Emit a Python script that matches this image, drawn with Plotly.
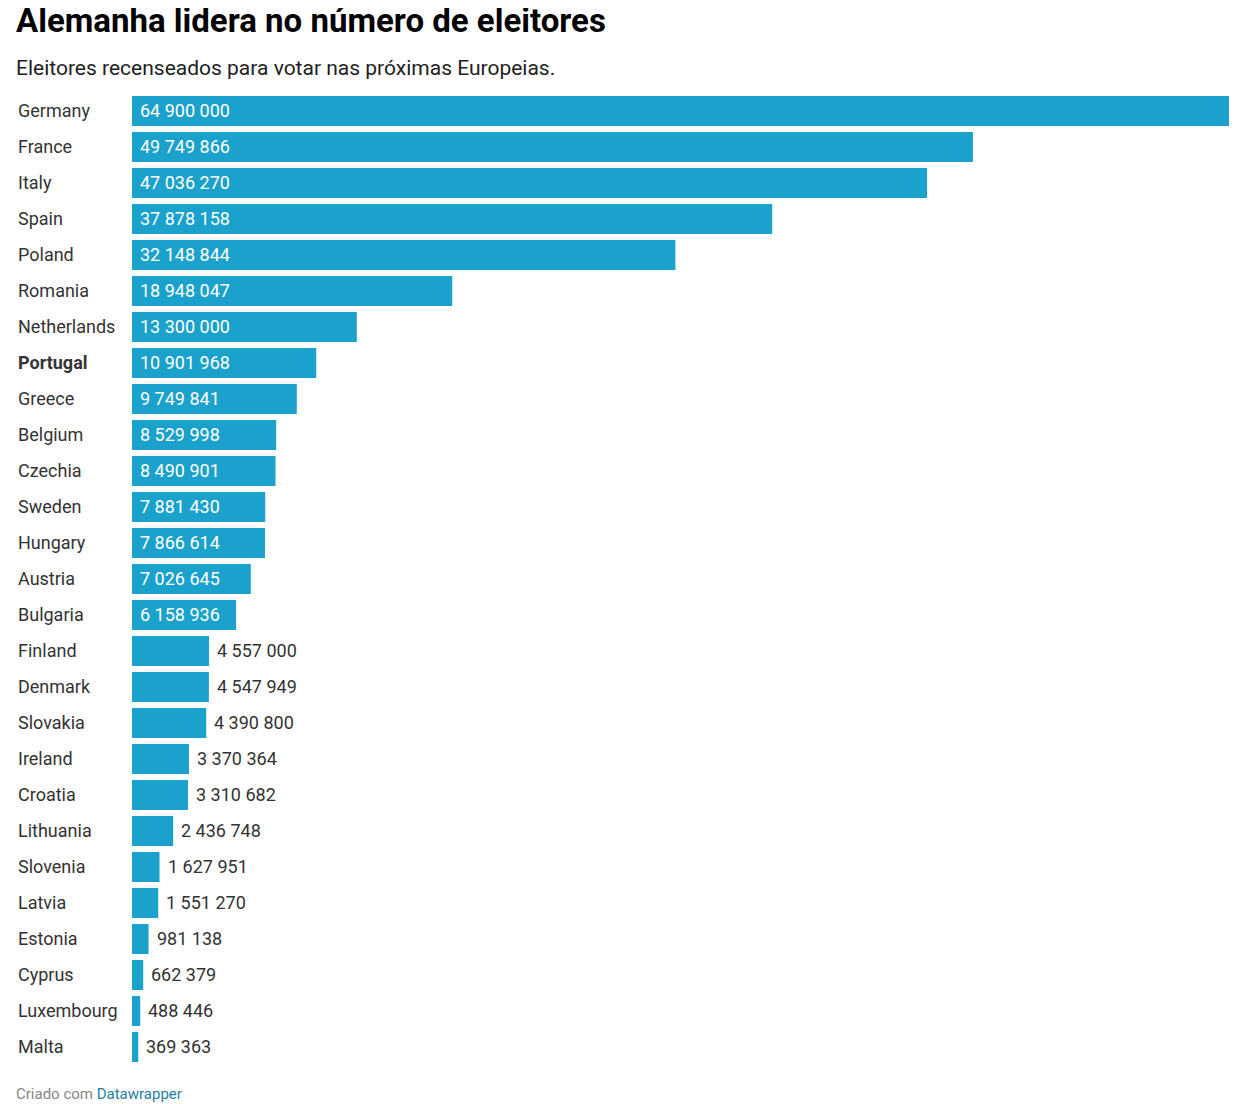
import plotly.graph_objects as go

# 数据
paises = ["Germany", "France", "Italy", "Spain", "Poland", "Romania", "Netherlands",
          "Portugal", "Greece", "Belgium", "Czechia", "Sweden", "Hungary", "Austria",
          "Bulgaria", "Finland", "Denmark", "Slovakia", "Ireland", "Croatia",
          "Lithuania", "Slovenia", "Latvia", "Estonia", "Cyprus", "Luxembourg", "Malta"]
eleitores = [64900000, 49749866, 47036270, 37878158, 32148844, 18948047, 13300000,
             10901968, 9749841, 8529998, 8490901, 7881430, 7866614, 7026645,
             6158936, 4557000, 4547949, 4390800, 3370364, 3310682,
             2436748, 1627951, 1551270, 981138, 662379, 488446, 369363]
destaque = "Portugal"

# a página tem 8px de margem no body, por isso tudo é deslocado 8px
OFF = 8
W, H = 1239 - OFF, 1104 - OFF
ML, MR, MT, MB = 132 - OFF, 10, 93 - OFF, 39
cor_barra = "#1aa1cc"
fonte = "Roboto"


def fmt(v):
    return f"{v:,}".replace(",", " ")


fig = go.Figure(go.Bar(
    x=eleitores,
    y=paises,
    orientation="h",
    marker=dict(color=cor_barra, line_width=0),
    hoverinfo="skip",
))

anns = []
plot_w = W - ML - MR
plot_h = H - MT - MB
for p, v in zip(paises, eleitores):
    # nome do país à esquerda
    nome = f"<b>{p}</b>" if p == destaque else p
    anns.append(dict(
        x=(16 - OFF - ML) / plot_w, xref="paper", y=p, yref="y", yshift=1,
        text=nome, showarrow=False, xanchor="left", yanchor="middle",
        font=dict(family=fonte, size=18, color="#333333"),
    ))
    # valor: dentro da barra se for grande, fora se for pequena
    if v >= 5000000:
        anns.append(dict(
            x=0, xref="x", y=p, yref="y", text=fmt(v), showarrow=False,
            xanchor="left", yanchor="middle", xshift=6, yshift=1,
            font=dict(family=fonte, size=18, color="white"),
        ))
    else:
        anns.append(dict(
            x=v, xref="x", y=p, yref="y", text=fmt(v), showarrow=False,
            xanchor="left", yanchor="middle", xshift=6, yshift=1,
            font=dict(family=fonte, size=18, color="#333333"),
        ))

# título, subtítulo e rodapé (posições em pixels da janela)
topo = [
    (14, 21, "<b>Alemanha lidera no número de eleitores</b>", 33, "#000000"),
    (14, 68, "Eleitores recenseados para votar nas próximas Europeias.", 21, "#222222"),
    (14, 1094, "Criado com <span style='color:#1d81a2'>Datawrapper</span>", 15, "#888888"),
]
for px_x, px_y, txt, tam, cor in topo:
    anns.append(dict(
        x=(px_x - OFF - ML) / plot_w, y=(H - (px_y - OFF) - MB) / plot_h,
        xref="paper", yref="paper", text=txt, showarrow=False,
        xanchor="left", yanchor="middle",
        font=dict(family=fonte, size=tam, color=cor),
    ))

fig.update_layout(
    width=W, height=H,
    margin=dict(l=ML, r=MR, t=MT, b=MB, pad=0),
    paper_bgcolor="white", plot_bgcolor="white",
    bargap=6 / 36,
    showlegend=False,
    xaxis=dict(range=[0, max(eleitores)], visible=False, fixedrange=True),
    yaxis=dict(autorange="reversed", showticklabels=False, showgrid=False,
               zeroline=False, fixedrange=True),
    annotations=anns,
)

fig.write_html("out.html", config={"displayModeBar": False})
